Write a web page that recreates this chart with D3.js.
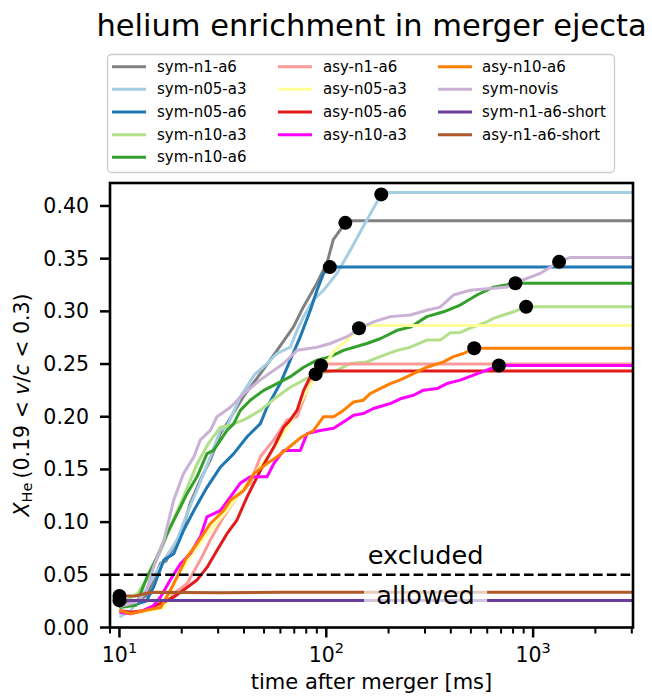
<!DOCTYPE html>
<html>
<head>
<meta charset="utf-8">
<script src="https://cdn.jsdelivr.net/npm/d3@7"></script>
<style>
  body { margin: 0; background: #fff; }
  svg { display: block; }
  text { font-family: "DejaVu Sans", sans-serif; fill: #000; }
</style>
</head>
<body>
<svg id="chart" width="652" height="698"></svg>
<script>
// ---- data: helium mass fraction in the 0.19 < v/c < 0.3 shell vs time after merger ----
const seriesNames = [
  "sym-n1-a6", "sym-n05-a3", "sym-n05-a6", "sym-n10-a3", "sym-n10-a6",
  "asy-n1-a6", "asy-n05-a3", "asy-n05-a6", "asy-n10-a3", "asy-n10-a6",
  "sym-novis", "sym-n1-a6-short", "asy-n1-a6-short"
];
const seriesColors = [
  "#808080", "#a6cee3", "#1f78b4", "#b2df8a", "#33a02c",
  "#fb9a99", "#ffff99", "#e31a1c", "#ff00ff", "#ff7f00",
  "#cab2d6", "#6a3d9a", "#b15928"
];

// [time in ms, X_He]
const symN1A6 = [[10,0.022],[12,0.025],[13.5,0.030],[14.1,0.038],[15.8,0.061],[16.8,0.063],[18.2,0.076],[20.1,0.092],[22,0.118],[24.6,0.140],[27.5,0.159],[30.7,0.184],[33.1,0.1935],[39.7,0.219],[48,0.241],[57.8,0.263],[69.3,0.285],[77.4,0.304],[90.2,0.327],[100.8,0.346],[108.1,0.368],[123.6,0.384],[130,0.386]];
const symN05A3 = [[10,0.010],[11.3,0.016],[13.1,0.032],[14.6,0.048],[16.4,0.064],[19.0,0.083],[21.2,0.108],[23.7,0.130],[27.5,0.162],[30.7,0.187],[33,0.190],[38.4,0.219],[45,0.240],[51.7,0.2505],[57.8,0.260],[67,0.266],[72.2,0.282],[77.7,0.295],[86.8,0.311],[97,0.320],[112.6,0.336],[130.6,0.358],[157.3,0.387],[184.4,0.411],[195,0.4127]];
const symN05A6 = [[10,0.021],[12,0.022],[13.5,0.025],[14.6,0.038],[16.4,0.064],[18.3,0.070],[20.4,0.092],[22.9,0.111],[26.5,0.133],[30.7,0.152],[35.7,0.165],[41.4,0.181],[48,0.1935],[51.7,0.209],[59.9,0.2315],[67,0.254],[74.9,0.276],[83.7,0.301],[90.2,0.320],[97,0.336],[104,0.342]];
const symN10A3 = [[10,0.022],[12.2,0.032],[14,0.050],[16,0.075],[18,0.100],[20,0.120],[21.5,0.135],[23.7,0.155],[27,0.175],[30.7,0.190],[34.4,0.192],[39.9,0.197],[48,0.206],[57.8,0.219],[67,0.228],[77.7,0.2347],[90.2,0.241],[112.6,0.244],[130.6,0.2505],[157,0.252],[182,0.257],[220,0.263],[255,0.266],[306,0.2727],[355,0.2727],[397,0.2796],[444,0.280],[496,0.284],[598,0.290],[643,0.2933],[719,0.2965],[803,0.2996],[925,0.3043]];
const symN10A6 = [[10,0.019],[12,0.021],[13.6,0.048],[15.2,0.067],[17,0.089],[19,0.108],[21.2,0.127],[23.7,0.143],[26.5,0.165],[28.5,0.168],[33.1,0.187],[35.7,0.1935],[38.4,0.206],[42.9,0.2157],[49.8,0.225],[57.8,0.2315],[67,0.238],[77.7,0.247],[90.2,0.2537],[104.5,0.257],[121,0.263],[157,0.2695],[182,0.274],[220,0.282],[255,0.285],[306,0.295],[369,0.2996],[444,0.306],[535,0.3155],[643,0.323],[821,0.3266]];
const asyN1A6 = [[10,0.016],[11.3,0.0145],[13,0.015],[15.8,0.019],[18.3,0.032],[21.2,0.0415],[24.6,0.064],[27.5,0.083],[31.9,0.105],[37,0.124],[42.9,0.137],[48,0.162],[55.7,0.178],[64.6,0.197],[72.2,0.200],[80.7,0.225],[86.8,0.238],[94.3,0.2486],[100,0.250]];
const asyN05A3 = [[10,0.015],[12,0.014],[14,0.016],[16.4,0.019],[19,0.048],[23.7,0.076],[27.5,0.092],[33.1,0.111],[39.9,0.133],[46.3,0.149],[53.6,0.165],[62.2,0.184],[69.5,0.200],[80.7,0.225],[90.2,0.240],[97,0.247],[108.5,0.262],[125.9,0.2727],[143.9,0.284],[155,0.2866]];
const asyN05A6 = [[10,0.016],[11.3,0.0145],[13,0.016],[14.1,0.019],[16.4,0.024],[18.3,0.029],[21.2,0.038],[23.7,0.045],[26.5,0.057],[29.6,0.073],[33.1,0.089],[37,0.102],[41.4,0.124],[48,0.149],[55.7,0.171],[62.2,0.190],[67,0.197],[72.2,0.206],[77.7,0.225],[83.7,0.238],[88.8,0.2404],[95,0.2435]];
const asyN10A3 = [[10,0.0145],[11.3,0.013],[13,0.016],[14.5,0.020],[15.8,0.029],[17.6,0.045],[19.7,0.0605],[22,0.070],[24.6,0.086],[26.5,0.105],[30.7,0.111],[34.4,0.124],[38.4,0.137],[42.9,0.143],[51.7,0.143],[55.7,0.1555],[62.2,0.168],[74.9,0.168],[80.7,0.184],[93.5,0.187],[108.5,0.189],[121,0.195],[135.5,0.2014],[151,0.203],[169,0.2078],[204,0.2125],[228,0.217],[264,0.2204],[295,0.2252],[343,0.2267],[383,0.2315],[444,0.2347],[515,0.2394],[598,0.2442],[683,0.2486]];
const asyN10A6 = [[10,0.016],[11.3,0.013],[13.1,0.016],[15.8,0.019],[17.6,0.035],[19,0.048],[21.2,0.067],[23.7,0.0795],[27.5,0.0985],[31.9,0.111],[34.4,0.1207],[39.9,0.130],[44.6,0.146],[51.7,0.1555],[57.8,0.162],[67,0.172],[74.9,0.180],[86.8,0.187],[97,0.200],[108.5,0.200],[121,0.206],[135.5,0.214],[151,0.2157],[163,0.222],[182,0.2267],[204,0.2315],[228,0.235],[264,0.241],[306,0.247],[369,0.252],[412,0.257],[460,0.260],[519,0.265]];
const symNovis = [[10,0.020],[12,0.024],[13.5,0.035],[14.6,0.057],[16.4,0.083],[18.3,0.121],[20.4,0.146],[22.9,0.162],[24.6,0.178],[27.5,0.187],[29.6,0.200],[34.4,0.209],[39.9,0.222],[48,0.235],[55.7,0.244],[62.2,0.2505],[72.2,0.263],[90.2,0.266],[104.5,0.2695],[125.9,0.276],[145.9,0.284],[169,0.290],[204,0.295],[255,0.2965],[306,0.301],[355,0.304],[412,0.3155],[496,0.320],[643,0.322],[746,0.323],[898,0.330],[1081,0.336],[1335,0.347],[1500,0.351]];
const symN1A6Short = [[10,0.0257]];
const asyN1A6Short = [[10,0.030],[12,0.030],[13.5,0.0325],[15,0.0335],[30,0.033],[60,0.0335]];

const seriesPoints = [symN1A6, symN05A3, symN05A6, symN10A3, symN10A6,
  asyN1A6, asyN05A3, asyN05A6, asyN10A3, asyN10A6, symNovis, symN1A6Short, asyN1A6Short];

// marked point of each run
const dotTimes  = [123.6, 184.4, 104, 925, 821, 94.3, 143.9, 88.8, 683, 519, 1335, 10, 10];
const dotValues = [0.384, 0.411, 0.342, 0.3043, 0.3266, 0.2486, 0.284, 0.2404, 0.2486, 0.265, 0.347, 0.0257, 0.030];

const yTickValues = [0.00, 0.05, 0.10, 0.15, 0.20, 0.25, 0.30, 0.35, 0.40];
const xMajorTicks = [10, 100, 1000];
const xTickExponents = ["1", "2", "3"];
const xMinorTicks = [9, 20, 30, 40, 50, 60, 70, 80, 90, 200, 300, 400, 500, 600, 700, 800, 900, 2000, 3000];
const heliumLimit = 0.05;

// ---- layout ----
const svg = d3.select("#chart");
const plot = { left: 110, right: 633, top: 183, bottom: 627.5 };
const x = d3.scaleLog().domain([9, 3040]).range([plot.left, plot.right]);
const y = d3.scaleLinear().domain([0, 0.4218]).range([plot.bottom, plot.top]);

svg.append("defs").append("clipPath").attr("id", "plotClip")
  .append("rect").attr("x", plot.left).attr("y", plot.top)
  .attr("width", plot.right - plot.left).attr("height", plot.bottom - plot.top);

// title
svg.append("text").attr("x", 371.5).attr("y", 36).attr("text-anchor", "middle")
  .style("font-size", "30.5px").text("helium enrichment in merger ejecta");

// lines
const line = d3.line().x(d => x(d[0])).y(d => y(d[1])).curve(d3.curveLinear);
const lineLayer = svg.append("g").attr("clip-path", "url(#plotClip)");
seriesPoints.forEach((pts, i) => {
  const last = pts[pts.length - 1];
  const ext = pts.concat([[x.domain()[1], last[1]]]);
  lineLayer.append("path").datum(ext)
    .attr("d", line).attr("fill", "none")
    .attr("stroke", seriesColors[i]).attr("stroke-width", 3)
    .attr("stroke-linejoin", "round");
});

// threshold line
lineLayer.append("line")
  .attr("x1", plot.left).attr("x2", plot.right)
  .attr("y1", y(heliumLimit)).attr("y2", y(heliumLimit))
  .attr("stroke", "#000").attr("stroke-width", 2.6).attr("stroke-dasharray", "9.6,4.2");

// marked points
lineLayer.selectAll("circle.mark").data(dotTimes.map((t, i) => [t, dotValues[i]]))
  .enter().append("circle").attr("class", "mark")
  .attr("cx", d => x(d[0])).attr("cy", d => y(d[1])).attr("r", 7).attr("fill", "#000");

// region labels
const labelT = 302;
svg.append("text").attr("x", x(labelT)).attr("y", y(0.0603)).attr("text-anchor", "middle")
  .style("font-size", "25.6px").text("excluded");
const allowed = svg.append("g");
allowed.append("rect").attr("x", x(labelT) - 61.5).attr("y", y(0.0465))
  .attr("width", 123).attr("height", 34).attr("fill", "#fff").attr("fill-opacity", 0.7);
allowed.append("text").attr("x", x(labelT)).attr("y", y(0.0223)).attr("text-anchor", "middle")
  .style("font-size", "25.6px").text("allowed");

// axes
const axisG = svg.append("g");
const tickW = 2.5;
// y ticks
yTickValues.forEach(v => {
  axisG.append("line").attr("x1", plot.left - 10).attr("x2", plot.left)
    .attr("y1", y(v)).attr("y2", y(v)).attr("stroke", "#000").attr("stroke-width", tickW);
  axisG.append("text").attr("x", plot.left - 21).attr("y", y(v)).attr("text-anchor", "end")
    .attr("dominant-baseline", "central").style("font-size", "20.5px").text(d3.format(".2f")(v));
});
// x major ticks
xMajorTicks.forEach((v, i) => {
  axisG.append("line").attr("x1", x(v)).attr("x2", x(v))
    .attr("y1", plot.bottom).attr("y2", plot.bottom + 10).attr("stroke", "#000").attr("stroke-width", tickW);
  const t = axisG.append("text").attr("x", x(v)).attr("y", 662).attr("text-anchor", "middle")
    .style("font-size", "20.5px");
  t.append("tspan").text("10");
  t.append("tspan").attr("dy", -9).style("font-size", "14.5px").text(xTickExponents[i]);
});
// x minor ticks
xMinorTicks.filter(v => v >= x.domain()[0] && v <= x.domain()[1]).forEach(v => {
  axisG.append("line").attr("x1", x(v)).attr("x2", x(v))
    .attr("y1", plot.bottom).attr("y2", plot.bottom + 6).attr("stroke", "#000").attr("stroke-width", 2);
});

// frame
axisG.append("rect").attr("x", plot.left).attr("y", plot.top)
  .attr("width", plot.right - plot.left).attr("height", plot.bottom - plot.top)
  .attr("fill", "none").attr("stroke", "#000").attr("stroke-width", 2.6);

// axis titles
svg.append("text").attr("x", (plot.left + plot.right) / 2).attr("y", 689).attr("text-anchor", "middle")
  .style("font-size", "21px").text("time after merger [ms]");

const yl = svg.append("text").attr("transform", "translate(22,405) rotate(-90)")
  .attr("text-anchor", "middle").attr("dominant-baseline", "central").style("font-size", "20.5px");
yl.append("tspan").style("font-style", "italic").text("X");
yl.append("tspan").attr("dy", 5).style("font-size", "14.5px").text("He");
yl.append("tspan").attr("dy", -5).text("\u2009(0.19 < ");
yl.append("tspan").style("font-style", "italic").text("v");
yl.append("tspan").text("/");
yl.append("tspan").style("font-style", "italic").text("c");
yl.append("tspan").text(" < 0.3)");

// legend
const legend = svg.append("g");
legend.append("rect").attr("x", 107.5).attr("y", 54.5).attr("width", 507).attr("height", 118)
  .attr("rx", 4).attr("fill", "#fff").attr("fill-opacity", 0.8)
  .attr("stroke", "#cccccc").attr("stroke-width", 1.3);
const colHandleX = [112, 278, 438];
const colTextX = [157, 323, 482];
const colCounts = [5, 4, 4];
let idx = 0;
colCounts.forEach((n, c) => {
  for (let r = 0; r < n; r++, idx++) {
    const cy = 66.7 + r * 22.65;
    legend.append("line").attr("x1", colHandleX[c]).attr("x2", colHandleX[c] + 34)
      .attr("y1", cy).attr("y2", cy).attr("stroke", seriesColors[idx]).attr("stroke-width", 3);
    legend.append("text").attr("x", colTextX[c]).attr("y", cy).attr("dominant-baseline", "central")
      .style("font-size", "15px").text(seriesNames[idx]);
  }
});
</script>
</body>
</html>
